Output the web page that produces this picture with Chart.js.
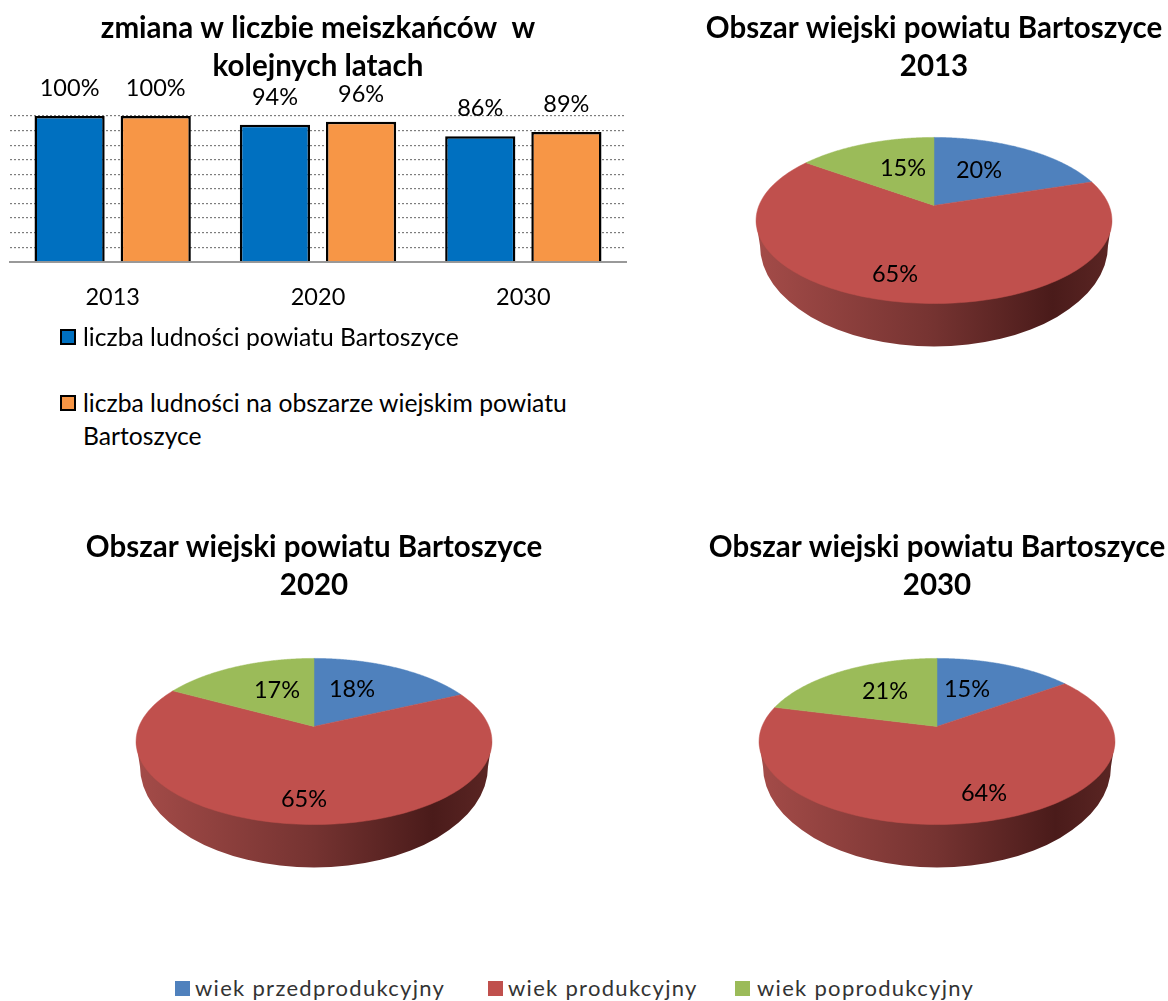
<!DOCTYPE html>
<html lang="pl">
<head>
<meta charset="utf-8">
<title>Obszar wiejski powiatu Bartoszyce</title>
<script src="https://cdn.jsdelivr.net/npm/chart.js@4"></script>
<style>
  html, body { margin: 0; padding: 0; background: #fff; width: 1168px; height: 1001px; overflow: hidden; font-family: Lato, sans-serif; }
  canvas { position: absolute; }
  .lg { position: absolute; color: #111; white-space: nowrap; }
  .sw { position: absolute; box-sizing: border-box; }
</style>
</head>
<body>
<canvas id="bars" width="636" height="340" style="left:0;top:0"></canvas>
<canvas id="pie2013" width="468" height="356" style="left:700px;top:0"></canvas>
<canvas id="pie2020" width="628" height="360" style="left:0;top:519px"></canvas>
<canvas id="pie2030" width="462" height="360" style="left:706px;top:519px"></canvas>
<div id="legends"></div>
<script>
// ---- data ----
const years = ['2013', '2020', '2030'];
const powiatLabel = 'liczba ludności powiatu Bartoszyce';
const ruralLabel = 'liczba ludności na obszarze wiejskim powiatu Bartoszyce';
const powiatValues = [100, 94, 86];
const ruralValues = [100, 96, 89];
const ageLabels = ['wiek przedprodukcyjny', 'wiek produkcyjny', 'wiek poprodukcyjny'];
const ageColors = ['#4f81bd', '#c0504d', '#9bbb59'];
const shares2013 = [20, 65, 15];
const shares2020 = [18, 65, 17];
const shares2030 = [15, 64, 21];
const barTitle = ['zmiana w liczbie meiszkańców  w', 'kolejnych latach'];
const pieTitle = 'Obszar wiejski powiatu Bartoszyce';

// label offsets from the pie apex, in pixels (blue, red, green)
const offsets2013 = [[45, -35], [-39, 69], [-31, -37]];
const offsets2020 = [[38, -37], [-10, 73], [-37, -36]];
const offsets2030 = [[30, -37], [47, 67], [-52, -35]];

const FONT = 'Lato, sans-serif';
Chart.defaults.animation = false;
Chart.defaults.font.family = FONT;
Chart.defaults.color = '#000';

// ---- bar chart ----
const barValueLabels = {
  id: 'barValueLabels',
  afterDatasetsDraw(chart) {
    const c = chart.ctx;
    c.save();
    c.font = '23.5px ' + FONT;
    c.fillStyle = '#000';
    c.textAlign = 'center';
    c.textBaseline = 'middle';
    chart.data.datasets.forEach((ds, i) => {
      chart.getDatasetMeta(i).data.forEach((el, j) => {
        c.fillText(ds.data[j] + '%', el.x, el.y - 27.5);
      });
    });
    c.restore();
  }
};

const barChart = new Chart(document.getElementById('bars'), {
  type: 'bar',
  data: {
    labels: years,
    datasets: [
      { label: powiatLabel, data: powiatValues, backgroundColor: '#0070c0', borderColor: '#000', borderWidth: 2.5 },
      { label: ruralLabel, data: ruralValues, backgroundColor: '#f79646', borderColor: '#000', borderWidth: 2.5 }
    ]
  },
  options: {
    responsive: false,
    barPercentage: 0.815,
    categoryPercentage: 0.839,
    layout: { padding: { left: 10, right: 10, bottom: 6 } },
    plugins: {
      legend: { display: false },
      tooltip: { enabled: false },
      title: {
        display: true, text: barTitle, color: '#000',
        font: { size: 29.5, weight: 'bold', lineHeight: 1.27 },
        padding: { top: 10, bottom: 31 }
      }
    },
    scales: {
      x: {
        grid: { display: false, drawTicks: false },
        border: { color: '#999', width: 2 },
        ticks: { font: { size: 23.5 }, color: '#000', padding: 22 }
      },
      y: {
        min: 0, max: 100,
        grid: { color: '#7d7d7d', lineWidth: 1.2, drawTicks: false },
        border: { display: false, dash: [2, 2] },
        ticks: { display: false, stepSize: 10 }
      }
    }
  },
  plugins: [barValueLabels]
});

// ---- tilted 3D pies: perspective projection of library arc angles ----
const TILT_A = 0.459;      // vertical scale of the top face
const TILT_K = 0.1807;     // perspective strength
const APEX_SHIFT = 0.0857; // apex above ellipse centre, in radii

function pieTilted(labelOffsets) {
  return {
    id: 'pieTilted',
    beforeDatasetsDraw(chart) {
      const c = chart.ctx;
      const meta = chart.getDatasetMeta(0);
      const first = meta.data[0];
      const R = first.outerRadius;
      const cx = first.x;
      const ellY = first.y;
      const apexY = ellY - APEX_SHIFT * R;
      const proj = (angle) => {
        const u = Math.cos(angle), v = -Math.sin(angle);
        const w = 1 + TILT_K * v;
        return [cx + R * u / w, apexY - TILT_A * R * v / w];
      };
      // side wall
      const topRx = R / Math.sqrt(1 - TILT_K * TILT_K);
      const botRx = topRx * 0.978;
      const botCy = ellY + 0.143 * R;
      const botRy = 0.577 * R;
      const grad = c.createLinearGradient(cx - botRx, 0, cx + botRx, 0);
      grad.addColorStop(0, '#a34b48');
      grad.addColorStop(0.5, '#753331');
      grad.addColorStop(0.84, '#4a1b1a');
      grad.addColorStop(1, '#5a2523');
      c.save();
      c.fillStyle = grad;
      c.beginPath();
      c.moveTo(cx - topRx, ellY);
      c.lineTo(cx - botRx, botCy);
      c.ellipse(cx, botCy, botRx, botRy, 0, Math.PI, 0, true);
      c.lineTo(cx + topRx, ellY);
      c.closePath();
      c.fill();
      // top face
      meta.data.forEach((arc) => {
        c.beginPath();
        c.moveTo(cx, apexY);
        const n = 160;
        for (let i = 0; i <= n; i++) {
          const p = proj(arc.startAngle + (arc.endAngle - arc.startAngle) * i / n);
          c.lineTo(p[0], p[1]);
        }
        c.closePath();
        c.fillStyle = arc.options.backgroundColor;
        c.strokeStyle = arc.options.backgroundColor;
        c.lineWidth = 0.5;
        c.fill();
        c.stroke();
      });
      // value labels
      c.font = '23.5px ' + FONT;
      c.fillStyle = '#000';
      c.textAlign = 'center';
      c.textBaseline = 'middle';
      chart.data.datasets[0].data.forEach((val, i) => {
        c.fillText(val + '%', cx + labelOffsets[i][0], apexY + labelOffsets[i][1]);
      });
      c.restore();
      return false;
    }
  };
}

function makePie(id, year, shares, labelOffsets) {
  return new Chart(document.getElementById(id), {
    type: 'pie',
    data: {
      labels: ageLabels,
      datasets: [{ data: shares, backgroundColor: ageColors, borderWidth: 0 }]
    },
    options: {
      responsive: false,
      radius: 175,
      plugins: {
        legend: { display: false },
        tooltip: { enabled: false },
        title: {
          display: true, text: [pieTitle, year], color: '#000',
          font: { size: 29.5, weight: 'bold', lineHeight: 1.27 },
          padding: { top: 10, bottom: 0 }
        }
      }
    },
    plugins: [pieTilted(labelOffsets)]
  });
}
makePie('pie2013', years[0], shares2013, offsets2013);
makePie('pie2020', years[1], shares2020, offsets2020);
makePie('pie2030', years[2], shares2030, offsets2030);

// ---- legends ----
const host = document.getElementById('legends');
function addSwatch(x, y, size, color, border) {
  const d = document.createElement('div');
  d.className = 'sw';
  d.style.cssText = `left:${x}px;top:${y}px;width:${size}px;height:${size}px;background:${color};` + (border ? 'border:2px solid #000;' : '');
  host.appendChild(d);
}
function addText(x, y, text, css) {
  const d = document.createElement('div');
  d.className = 'lg';
  d.textContent = text;
  d.style.cssText = `left:${x}px;top:${y}px;` + css;
  host.appendChild(d);
}
const bd = barChart.data.datasets;
const legendCss = 'font-size:24.7px;line-height:32px;color:#000;';
addSwatch(60, 329, 16, bd[0].backgroundColor, true);
addText(83, 321, bd[0].label, legendCss);
addSwatch(60, 395, 16, bd[1].backgroundColor, true);
const words = bd[1].label.split(' ');
addText(83, 387, words.slice(0, -1).join(' '), legendCss);
addText(83, 420, words[words.length - 1], legendCss);

const swX = [175, 488, 735];
const txX = [195, 508, 757];
ageLabels.forEach((t, i) => {
  addSwatch(swX[i], 981, 15, ageColors[i], false);
  addText(txX[i], 975, t, 'font-size:22px;line-height:26px;letter-spacing:1.3px;color:#333;');
});
</script>
</body>
</html>
